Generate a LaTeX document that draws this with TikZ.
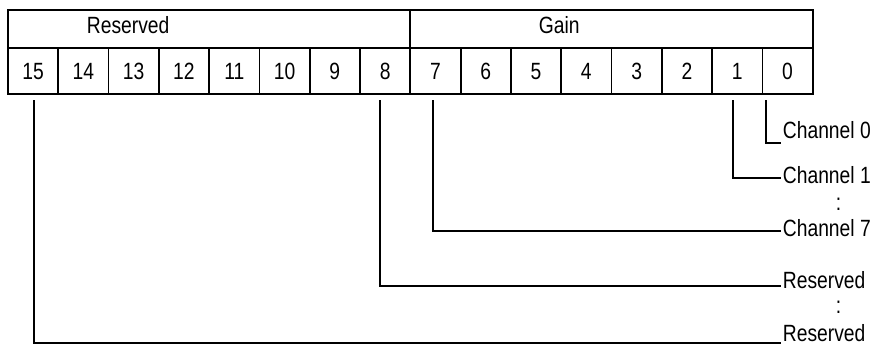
\documentclass[tikz,border=0pt]{standalone}
\usepackage{fontspec}
\setmainfont{Liberation Sans}[FakeStretch=0.82]
\newcommand{\fs}{\fontsize{23.5}{27}\selectfont}
\begin{document}
\begin{tikzpicture}[x=1pt,y=-1pt,line width=1.8pt,
  cell/.style={draw,minimum width=50.3pt,minimum height=46.3pt,inner sep=0pt,anchor=north west,font=\fs},
  hdr/.style={draw,minimum width=402.35pt,minimum height=38pt,inner sep=0pt,anchor=north west},
  lab/.style={anchor=base west,inner sep=0pt,font=\fs},
  wire/.style={line width=1.8pt}]
\useasboundingbox (0,0) rectangle (870,345);
% header row
\node[hdr] (hR) at (7,9) {};
\node[hdr] (hG) at (409.35,9) {};
\node[lab] (tR) at (86,34) {Reserved};
\node[lab] (tG) at (538,34) {Gain};
% bit cells
\foreach \b in {15,...,0} {
  \pgfmathsetmacro\xx{7+50.3*(15-\b)}
  \node[cell] (c\b) at (\xx,47) {\b};
}
% label end points
\coordinate (e0) at (781,143);
\coordinate (e1) at (781,178);
\coordinate (e7) at (781,231);
\coordinate (e8) at (781,286);
\coordinate (e15) at (781,343.3);
% labels
\node[lab] (l0) at (782,138) {Channel 0};
\node[lab] (l1) at (782,183) {Channel 1};
\node[lab] (d1) at (835,210) {:};
\node[lab] (l7) at (782,236) {Channel 7};
\node[lab] (l8) at (782,288) {Reserved};
\node[lab] (d2) at (835,313) {:};
\node[lab] (l15) at (782,341) {Reserved};
% connectors
\draw[wire] ([xshift=4.5pt,yshift=-5pt]c0.south west) |- (e0);
\draw[wire] ([xshift=-4pt,yshift=-5pt]c1.south) |- (e1);
\draw[wire] ([xshift=-2.6pt,yshift=-5pt]c7.south) |- (e7);
\draw[wire] ([xshift=-5.3pt,yshift=-5pt]c8.south) |- (e8);
\draw[wire] ([xshift=0.8pt,yshift=-5pt]c15.south) |- (e15);
\end{tikzpicture}
\end{document}
